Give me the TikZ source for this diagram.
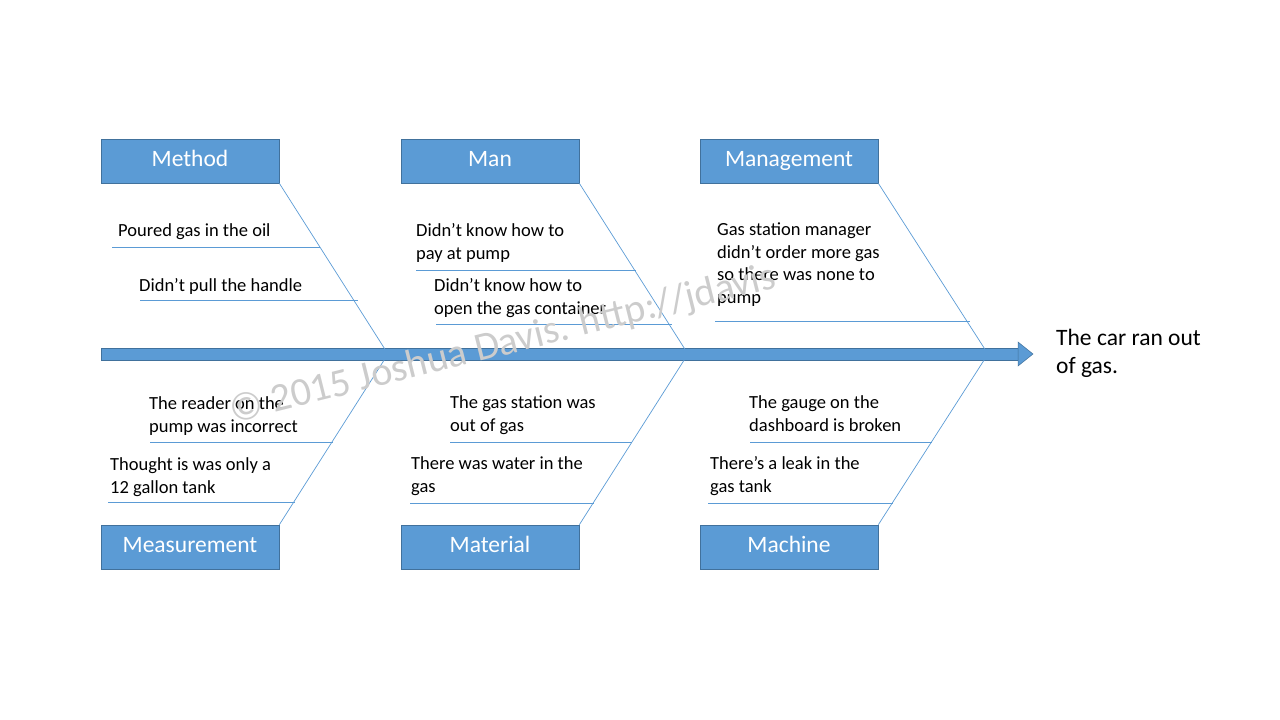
\documentclass[tikz,border=0pt]{standalone}
\usepackage{fontspec}
\setmainfont{Carlito}
\definecolor{acc}{HTML}{5B9BD5}
\definecolor{accd}{HTML}{41719C}
\begin{document}
\begin{tikzpicture}[x=1pt,y=-1pt,
  cat/.style={draw=accd,fill=acc,line width=0.8pt,minimum width=178pt,minimum height=44pt,inner sep=0pt,text height=16pt,text depth=5pt,text=white,font=\fontsize{23.5}{28}\selectfont},
  bone/.style={draw=acc,line width=0.7pt},
  lbl/.style={anchor=north west,align=left,inner sep=0pt,font=\fontsize{18.5}{23}\selectfont}]
\useasboundingbox (0,0) rectangle (1280,720);
% spine
\fill[acc] (101,348) rectangle (1019,360);
\draw[accd,line width=0.5pt] (101,348) rectangle (1019,360);
\coordinate (tip) at (1033,354);
\fill[acc,draw=accd,line width=0.5pt] (1018,342) -- (tip) -- (1018,366) -- cycle;
% boxes
\node[cat] (method) at (190,161) {Method};
\node[cat] (man) at (490,161) {Man};
\node[cat] (mgmt) at (789,161) {Management};
\node[cat] (meas) at (190,547) {Measurement};
\node[cat] (mat) at (490,547) {Material};
\node[cat] (mach) at (789,547) {Machine};
\coordinate (s1) at (388,354);
\coordinate (s2) at (688,354);
\coordinate (s3) at (988,354);
\draw[bone] (method.south east) -- (s1);
\draw[bone] (meas.north east) -- (s1);
\draw[bone] (man.south east) -- (s2);
\draw[bone] (mat.north east) -- (s2);
\draw[bone] (mgmt.south east) -- (s3);
\draw[bone] (mach.north east) -- (s3);
% branches
\foreach \a/\b/\y in {112/320/247,140/358/300,416/636/270,436/672/324,715/970/321,150/333/442,108/295/502,450/632/442,410/594/503,750/932/442,708/893/503}{
  \coordinate (l) at (\a,\y); \coordinate (r) at (\b,\y);
  \draw[bone] (l) -- (r);}
% labels
\node[lbl] (t1) at (118,223) {Poured gas in the oil};
\node[lbl] (t2) at (139,278) {Didn’t pull the handle};
\node[lbl] (t3) at (416,223) {Didn’t know how to\\pay at pump};
\node[lbl] (t4) at (434,278) {Didn’t know how to\\open the gas container};
\node[lbl,font=\fontsize{18.5}{22.5}\selectfont] (t5) at (717,223) {Gas station manager\\didn’t order more gas\\so there was none to\\pump};
\node[lbl] (b1) at (149,396) {The reader on the\\pump was incorrect};
\node[lbl] (b2) at (110,457) {Thought is was only a\\12 gallon tank};
\node[lbl] (b3) at (450,395) {The gas station was\\out of gas};
\node[lbl] (b4) at (411,456) {There was water in the\\gas};
\node[lbl] (b5) at (749,395) {The gauge on the\\dashboard is broken};
\node[lbl] (b6) at (710,456) {There’s a leak in the\\gas tank};
\node[lbl,font=\fontsize{23.5}{28}\selectfont] (eff) at (1056,329) {The car ran out\\of gas.};
% watermark
\node[text=black!20,font=\fontsize{40}{46}\selectfont,rotate=14] (wm) at (503,345) {© 2015 Joshua Davis. http://jdavis};
\end{tikzpicture}
\end{document}
